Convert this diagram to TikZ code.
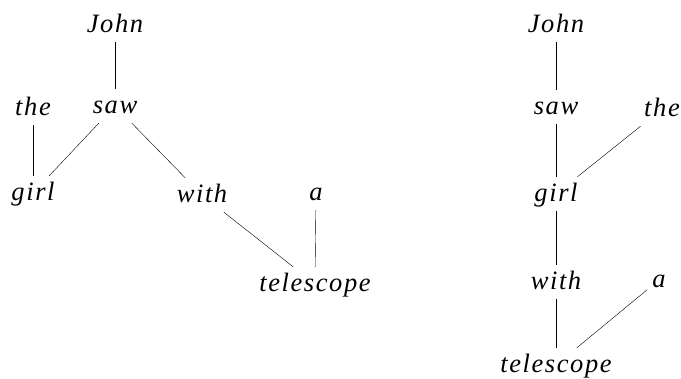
\documentclass[tikz,border=0pt]{standalone}
\usepackage{fontspec}
\setmainfont{Liberation Serif}
\newfontfamily\wordfont[LetterSpace=6]{Liberation Serif}
\usepackage{tikz}

\begin{document}
\begin{tikzpicture}
		[x=1pt, y=-1pt,
		word/.style={font=\wordfont\itshape\fontsize{26.5}{30}\selectfont,
			text height=20pt, text depth=4pt, inner sep=5pt}]
		\useasboundingbox (0,0) rectangle (681,379);

		% left tree
		\node[word] (john1) at (115,25) {John};
		\node[word] (saw1) at (115,106) {saw};
		\node[word] (the1) at (33,108) {the};
		\node[word] (girl1) at (33,193) {girl};
		\node[word] (with1) at (202,195) {with};
		\node[word] (a1) at (316,193) {a};
		\node[word] (tele1) at (315,284) {telescope};

		\draw (john1) -- (saw1);
		\draw (saw1) -- (girl1);
		\draw (the1) -- (girl1);
		\draw (saw1) -- (with1);
		\draw (with1) -- (tele1);
		\draw (a1) -- (tele1);

		% right tree
		\node[word] (john2) at (556,25) {John};
		\node[word] (saw2) at (556,107) {saw};
		\node[word] (the2) at (662,109) {the};
		\node[word] (girl2) at (556,194) {girl};
		\node[word] (with2) at (556,282) {with};
		\node[word] (a2) at (659,280) {a};
		\node[word] (tele2) at (556,365) {telescope};

		\draw (john2) -- (saw2);
		\draw (saw2) -- (girl2);
		\draw (the2) -- (girl2);
		\draw (girl2) -- (with2);
		\draw (with2) -- (tele2);
		\draw (a2) -- (tele2);
	\end{tikzpicture}
\end{document}
